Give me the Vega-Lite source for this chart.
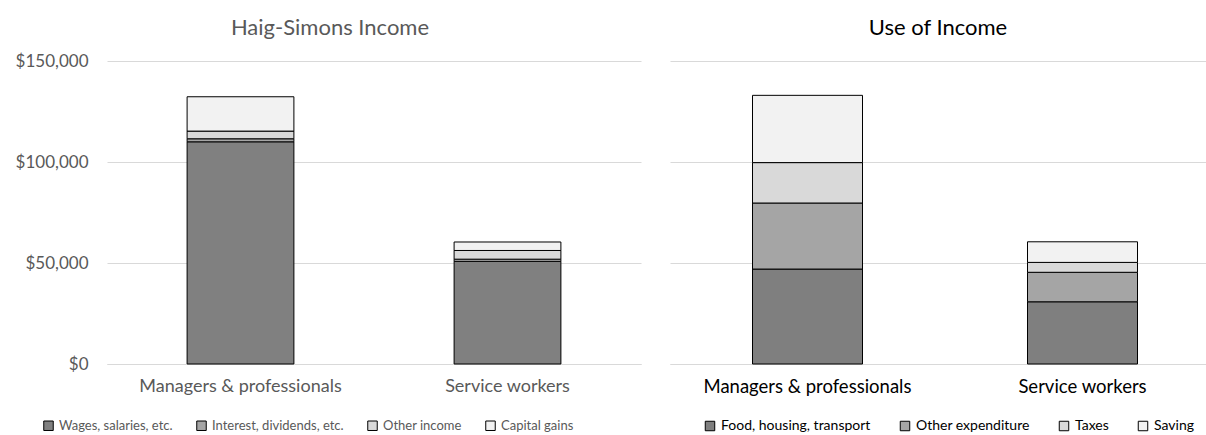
{
  "$schema": "https://vega.github.io/schema/vega-lite/v6.json",
  "padding": {"left": 15, "top": 17, "right": 0, "bottom": 0},
  "config": {
    "view": {"stroke": null},
    "font": "Lato",
    "concat": {"spacing": 29}
  },
  "datasets": {
    "income": [
      {"group": "Managers & professionals", "component": "Wages, salaries, etc.", "amount": 110000},
      {"group": "Managers & professionals", "component": "Interest, dividends, etc.", "amount": 1500},
      {"group": "Managers & professionals", "component": "Other income", "amount": 3800},
      {"group": "Managers & professionals", "component": "Capital gains", "amount": 17000},
      {"group": "Service workers", "component": "Wages, salaries, etc.", "amount": 50800},
      {"group": "Service workers", "component": "Interest, dividends, etc.", "amount": 1100},
      {"group": "Service workers", "component": "Other income", "amount": 4300},
      {"group": "Service workers", "component": "Capital gains", "amount": 4200}
    ],
    "use": [
      {"group": "Managers & professionals", "component": "Food, housing, transport", "amount": 47000},
      {"group": "Managers & professionals", "component": "Other expenditure", "amount": 32700},
      {"group": "Managers & professionals", "component": "Taxes", "amount": 20000},
      {"group": "Managers & professionals", "component": "Saving", "amount": 33300},
      {"group": "Service workers", "component": "Food, housing, transport", "amount": 30800},
      {"group": "Service workers", "component": "Other expenditure", "amount": 14600},
      {"group": "Service workers", "component": "Taxes", "amount": 4900},
      {"group": "Service workers", "component": "Saving", "amount": 10200}
    ]
  },
  "resolve": {"scale": {"color": "independent", "y": "independent", "x": "independent"}, "legend": {"color": "independent"}},
  "hconcat": [
    {
      "width": 534,
      "height": 303,
      "data": {"name": "income"},
      "transform": [
        {"calculate": "indexof(['Wages, salaries, etc.', 'Interest, dividends, etc.', 'Other income', 'Capital gains'], datum.component)", "as": "rank"}
      ],
      "title": {"text": "Haig-Simons Income", "fontSize": 22, "fontWeight": "normal", "color": "#595959", "offset": 12, "dx": -44, "font": "Lato"},
      "mark": {"type": "bar", "stroke": "#000000", "strokeWidth": 1},
      "encoding": {
        "x": {
          "field": "group", "type": "nominal", "sort": ["Managers & professionals", "Service workers"],
          "scale": {"paddingInner": 0.6, "paddingOuter": 0.3},
          "axis": {"title": null, "labelAngle": 0, "ticks": false, "domainColor": "#d9d9d9", "labelFontSize": 18, "labelColor": "#595959", "labelPadding": 13, "labelLimit": 400}
        },
        "y": {
          "field": "amount", "type": "quantitative", "stack": "zero",
          "scale": {"domain": [0, 150000], "nice": false},
          "axis": {"title": null, "values": [0, 50000, 100000, 150000], "format": "$,.0f", "domain": false, "ticks": false, "tickSize": 0, "gridColor": "#d9d9d9", "labelFontSize": 17, "labelColor": "#595959", "labelPadding": 19}
        },
        "order": {"field": "rank", "type": "quantitative", "sort": "ascending"},
        "color": {
          "field": "component", "type": "nominal",
          "sort": ["Wages, salaries, etc.", "Interest, dividends, etc.", "Other income", "Capital gains"],
          "scale": {"domain": ["Wages, salaries, etc.", "Interest, dividends, etc.", "Other income", "Capital gains"], "range": ["#808080", "#a5a5a5", "#d9d9d9", "#f2f2f2"]},
          "legend": {"title": null, "orient": "none", "legendX": -65, "legendY": 358, "direction": "horizontal", "symbolType": "square", "symbolSize": 90, "symbolStrokeColor": "#000000", "symbolStrokeWidth": 1, "labelFontSize": 13, "labelColor": "#595959", "columnPadding": 21, "labelOffset": 4, "labelLimit": 300}
        }
      }
    },
    {
      "width": 550,
      "height": 303,
      "data": {"name": "use"},
      "transform": [
        {"calculate": "indexof(['Food, housing, transport', 'Other expenditure', 'Taxes', 'Saving'], datum.component)", "as": "rank"}
      ],
      "title": {"text": "Use of Income", "fontSize": 22, "fontWeight": "normal", "color": "#000000", "offset": 21, "dx": -7, "font": "Lato"},
      "mark": {"type": "bar", "stroke": "#000000", "strokeWidth": 1},
      "encoding": {
        "x": {
          "field": "group", "type": "nominal", "sort": ["Managers & professionals", "Service workers"],
          "scale": {"paddingInner": 0.6, "paddingOuter": 0.3},
          "axis": {"title": null, "labelAngle": 0, "ticks": false, "domainColor": "#d9d9d9", "labelFontSize": 18.5, "labelColor": "#000000", "labelPadding": 13, "labelLimit": 400}
        },
        "y": {
          "field": "amount", "type": "quantitative", "stack": "zero",
          "scale": {"domain": [0, 150000], "nice": false},
          "axis": {"title": null, "values": [0, 50000, 100000, 150000], "labels": false, "domain": false, "ticks": false, "tickSize": 0, "minExtent": 0, "gridColor": "#d9d9d9"}
        },
        "order": {"field": "rank", "type": "quantitative", "sort": "ascending"},
        "color": {
          "field": "component", "type": "nominal",
          "sort": ["Food, housing, transport", "Other expenditure", "Taxes", "Saving"],
          "scale": {"domain": ["Food, housing, transport", "Other expenditure", "Taxes", "Saving"], "range": ["#7f7f7f", "#a5a5a5", "#d9d9d9", "#f2f2f2"]},
          "legend": {"title": null, "orient": "none", "legendX": 33, "legendY": 358, "direction": "horizontal", "symbolType": "square", "symbolSize": 90, "symbolStrokeColor": "#000000", "symbolStrokeWidth": 1, "labelFontSize": 14, "labelColor": "#000000", "columnPadding": 27, "labelOffset": 4, "labelLimit": 300}
        }
      }
    }
  ]
}
